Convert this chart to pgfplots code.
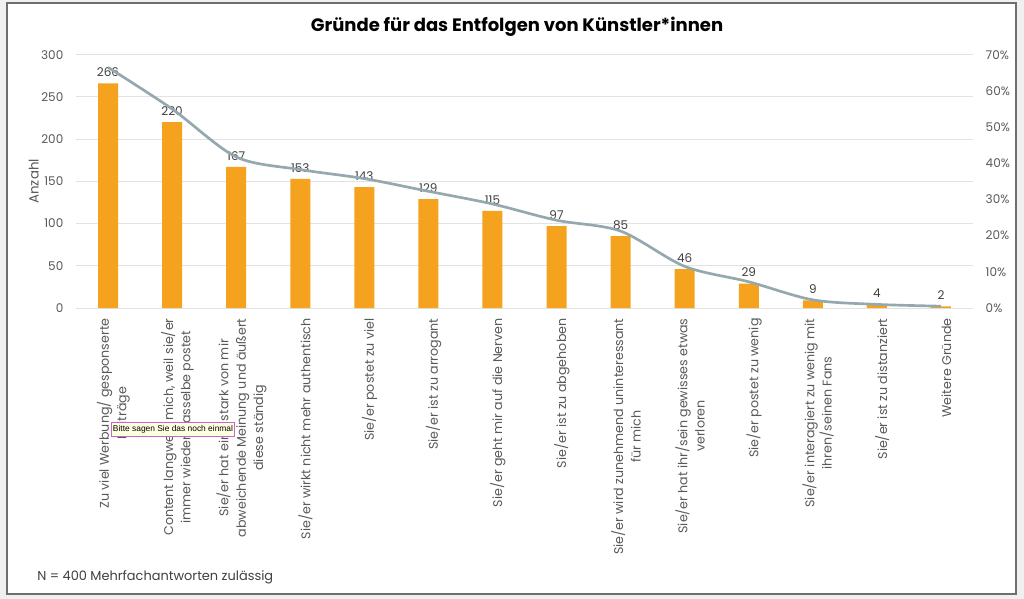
\documentclass[border=0pt]{standalone}
\usepackage{fontspec}
\setmainfont{Poppins}
\newfontfamily\tipfont{Liberation Sans}
\usepackage{pgfplots}
\pgfplotsset{compat=1.18}
\definecolor{barorange}{HTML}{F5A31F}
\definecolor{linegrey}{HTML}{94A8AE}
\definecolor{gridgrey}{HTML}{E2E2E2}
\definecolor{txtgrey}{HTML}{595959}
\definecolor{lblgrey}{HTML}{404040}
\definecolor{framegrey}{HTML}{6E6E6E}
\definecolor{bggrey}{HTML}{F0F0F0}
\newcommand{\tickfont}{\fontsize{9}{11}\selectfont}
\newcommand{\catfont}{\fontsize{9.5}{13}\selectfont}

\begin{document}
\begin{tikzpicture}
% outer background and chart frame (1px = 0.75pt)
\fill[bggrey] (0pt,0pt) rectangle (768pt,-449.25pt);
\useasboundingbox (0pt,0pt) rectangle (768pt,-449.25pt);
\filldraw[fill=white, draw=framegrey, line width=1.2pt] (5.25pt,-2.25pt) rectangle (762pt,-445.5pt);

\node[font=\bfseries\fontsize{13.5}{16}\selectfont] at (387.75pt,-20.25pt) {Gründe für das Entfolgen von Künstler*innen};

\begin{axis}[
    at={(57pt,-231pt)}, anchor=south west,
    width=672.75pt, height=190pt, scale only axis,
    xmin=-0.5, xmax=13.5, ymin=0, ymax=300,
    ytick={0,50,...,300},
    ymajorgrids, grid style={gridgrey, line width=0.75pt},
    axis line style={draw=none}, tick style={draw=none},
    /pgf/number format/assume math mode=true,
    y tick label style={font=\tickfont, text=txtgrey, xshift=-6pt},
    ylabel={Anzahl},
    ylabel style={font=\fontsize{10}{12}\selectfont, text=txtgrey, at={(axis description cs:-0.047,0.5)}, anchor=center},
    xtick={0,...,13},
    xticklabels={
      Zu viel Werbung/ gesponserte\\Beiträge,
      {Content langweilt mich, weil sie/er\\immer wieder dasselbe postet},
      Sie/er hat eine stark von mir\\abweichende Meinung und äußert\\diese ständig,
      Sie/er wirkt nicht mehr authentisch,
      Sie/er postet zu viel,
      Sie/er ist zu arrogant,
      Sie/er geht mir auf die Nerven,
      Sie/er ist zu abgehoben,
      Sie/er wird zunehmend uninteressant\\für mich,
      Sie/er hat ihr/sein gewisses etwas\\verloren,
      Sie/er postet zu wenig,
      Sie/er interagiert zu wenig mit\\ihren/seinen Fans,
      Sie/er ist zu distanziert,
      Weitere Gründe},
    x tick label style={rotate=90, anchor=east, align=center, font=\catfont, text=txtgrey, yshift=-4pt},
    ybar, bar width=15pt,
    nodes near coords,
    nodes near coords style={font=\tickfont, text=lblgrey, yshift=1.5pt},
]
\addplot[fill=barorange, draw=none] coordinates {
(0,266) (1,220) (2,167) (3,153) (4,143) (5,129) (6,115)
(7,97) (8,85) (9,46) (10,29) (11,9) (12,4) (13,2)
};
\end{axis}

\begin{axis}[
    at={(57pt,-231pt)}, anchor=south west,
    width=672.75pt, height=190pt, scale only axis,
    xmin=-0.5, xmax=13.5, ymin=0, ymax=70,
    axis y line*=right, hide x axis,
    axis line style={draw=none}, tick style={draw=none},
    ytick={0,10,...,70},
    yticklabel={\pgfmathprintnumber{\tick}\%},
    /pgf/number format/assume math mode=true,
    y tick label style={font=\tickfont, text=txtgrey, xshift=6pt},
]
\addplot[linegrey, line width=2pt, smooth, tension=0.5] coordinates {
(0,66.5) (1,55) (2,41.75) (3,38.25) (4,35.75) (5,32.25) (6,28.75)
(7,24.25) (8,21.25) (9,11.5) (10,7.25) (11,2.25) (12,1) (13,0.5)
};
\end{axis}

\node[anchor=west, inner sep=0pt, font=\fontsize{9.7}{12}\selectfont, text=lblgrey] at (27.75pt,-432.75pt) {N = 400 Mehrfachantworten zulässig};

\node[fill={rgb,255:red,255;green,255;blue,225}, draw={rgb,255:red,205;green,100;blue,205}, line width=0.6pt,
      minimum width=91.5pt, minimum height=10.5pt, inner sep=1pt,
      font=\tipfont\fontsize{6.3}{7}\selectfont] at (129.75pt,-321.75pt) {Bitte sagen Sie das noch einmal};
\end{tikzpicture}
\end{document}
